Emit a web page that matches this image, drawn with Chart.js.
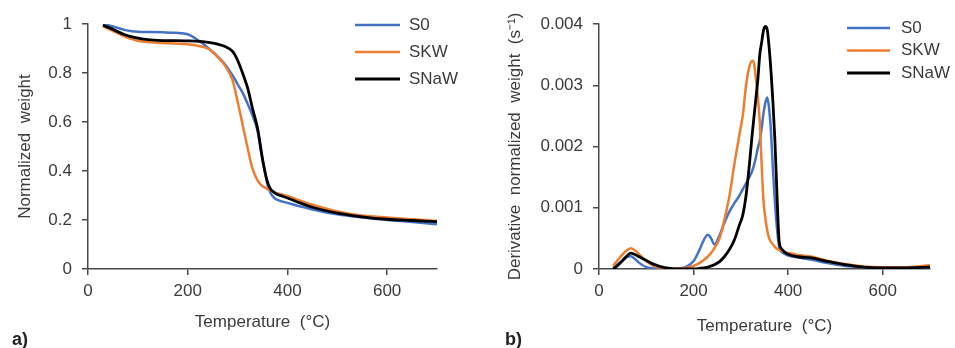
<!DOCTYPE html>
<html>
<head>
<meta charset="utf-8">
<script src="https://cdn.jsdelivr.net/npm/chart.js@4.4.1/dist/chart.umd.min.js"></script>
<style>
  body { margin: 0; background: #fff; }
  #wrap { position: relative; width: 955px; height: 348px; }
  canvas { position: absolute; top: 0; }
</style>
</head>
<body>
<div id="wrap">
  <canvas id="chart_tg" width="480" height="348" style="left:0"></canvas>
  <canvas id="chart_dtg" width="475" height="348" style="left:480px"></canvas>
</div>
<script>
// Series
const seriesNames = ['S0', 'SKW', 'SNaW'];
const seriesColors = ['#4472c4', '#ed7d31', '#000000'];

// a) TG curves
const tgTemps = [30, 50, 75, 100, 125, 150, 175, 200, 215, 230, 245, 260, 275, 290, 300, 310, 320, 330, 340, 350, 355, 360, 365, 370, 375, 380, 390, 400, 425, 450, 500, 550, 600, 650, 700];
const s0Weight = [1.0, 0.99, 0.975, 0.968, 0.967, 0.966, 0.964, 0.958, 0.942, 0.92, 0.895, 0.868, 0.835, 0.79, 0.755, 0.72, 0.675, 0.626, 0.565, 0.445, 0.40, 0.345, 0.315, 0.298, 0.288, 0.282, 0.275, 0.27, 0.256, 0.243, 0.223, 0.21, 0.2, 0.192, 0.183];
const skwWeight = [0.99, 0.972, 0.948, 0.932, 0.925, 0.922, 0.92, 0.917, 0.913, 0.907, 0.895, 0.865, 0.83, 0.77, 0.685, 0.59, 0.495, 0.41, 0.362, 0.338, 0.332, 0.326, 0.321, 0.317, 0.313, 0.309, 0.303, 0.298, 0.28, 0.262, 0.235, 0.218, 0.21, 0.203, 0.196];
const snawWeight = [0.995, 0.978, 0.955, 0.942, 0.935, 0.932, 0.932, 0.931, 0.93, 0.928, 0.924, 0.918, 0.908, 0.888, 0.852, 0.8, 0.74, 0.655, 0.575, 0.45, 0.395, 0.355, 0.33, 0.318, 0.31, 0.304, 0.297, 0.29, 0.27, 0.252, 0.228, 0.213, 0.203, 0.198, 0.193];

// b) DTG curves
const dtgTemps = [30, 40, 50, 60, 67, 75, 85, 100, 115, 130, 150, 170, 185, 200, 213, 222, 230, 237, 244, 255, 265, 276, 286, 297, 304, 311, 318, 324, 328, 332, 336, 340, 344, 348, 352, 356, 360, 364, 368, 372, 376, 381, 386, 392, 400, 420, 450, 480, 520, 560, 600, 650, 700];
const s0Deriv = [0.00002, 0.00008, 0.00014, 0.0002, 0.00021, 0.00017, 0.0001, 0.00003, 0.00001, 0, 0, 0.00001, 0.00004, 0.00013, 0.00032, 0.00048, 0.00056, 0.0005, 0.0004, 0.00055, 0.00075, 0.00094, 0.00107, 0.0012, 0.0013, 0.0014, 0.0015, 0.0016, 0.0017, 0.00183, 0.00198, 0.0021, 0.0023, 0.00255, 0.00272, 0.0028, 0.0026, 0.0022, 0.0016, 0.0011, 0.0007, 0.00036, 0.00028, 0.00025, 0.00022, 0.00019, 0.00015, 0.0001, 0.00005, 0.00003, 0.00002, 0.00002, 0.00003];
const skwDeriv = [0.00005, 0.00015, 0.00024, 0.00031, 0.00034, 0.00031, 0.00024, 0.00013, 0.00005, 0.00002, 0.00001, 0.00001, 0.00002, 0.00005, 0.0001, 0.00015, 0.0002, 0.00026, 0.00034, 0.0005, 0.0008, 0.0012, 0.0017, 0.0022, 0.0025, 0.003, 0.0033, 0.0034, 0.00335, 0.0031, 0.0028, 0.0024, 0.0017, 0.0011, 0.00082, 0.00062, 0.0005, 0.00044, 0.0004, 0.00036, 0.00033, 0.00031, 0.0003, 0.00028, 0.00026, 0.00023, 0.0002, 0.00014, 0.00008, 0.00004, 0.00003, 0.00003, 0.00006];
const snawDeriv = [0, 0.00006, 0.00014, 0.00022, 0.00026, 0.00024, 0.0002, 0.00014, 0.00008, 0.00004, 0.00001, 0, 0, 0, 0.00001, 0.00002, 0.00003, 0.00005, 0.00007, 0.00012, 0.0002, 0.00032, 0.00047, 0.00072, 0.00088, 0.0012, 0.0017, 0.0022, 0.0025, 0.0028, 0.0031, 0.0035, 0.0037, 0.0039, 0.00396, 0.0039, 0.0036, 0.0032, 0.0027, 0.0021, 0.0013, 0.00045, 0.00033, 0.00028, 0.00024, 0.0002, 0.00018, 0.00013, 0.00007, 0.00003, 0.00002, 0.00002, 0.00003];

// Tick labels
const tempTicks = [0, 200, 400, 600];
const tgTicks = [0, 0.2, 0.4, 0.6, 0.8, 1];
const tgTickLabels = ['0', '0.2', '0.4', '0.6', '0.8', '1'];
const dtgTicks = [0, 0.001, 0.002, 0.003, 0.004];
const dtgTickLabels = ['0', '0.001', '0.002', '0.003', '0.004'];

const FAMILY = "'Liberation Sans', Arial, sans-serif";
const TEXT = '#3b3b3b';
const AXIS = '#4a4a4a';
const font = { family: FAMILY, size: 17 };

// legend + panel letter drawn on the canvas
const sideLegend = {
    id: 'sideLegend',
    afterDraw(chart, args, o) {
        const ctx = chart.ctx;
        ctx.save();
        ctx.font = `${o.size}px ${FAMILY}`;
        ctx.textBaseline = 'middle';
        ctx.textAlign = 'left';
        chart.data.datasets.forEach((ds, i) => {
            const y = o.y + i * o.dy;
            ctx.strokeStyle = ds.borderColor;
            ctx.lineWidth = ds.borderWidth;
            ctx.beginPath();
            ctx.moveTo(o.x, y);
            ctx.lineTo(o.x + o.len, y);
            ctx.stroke();
            ctx.fillStyle = TEXT;
            ctx.fillText(ds.label, o.x + o.len + o.gap, y);
        });
        ctx.font = `bold ${o.size + 1}px ${FAMILY}`;
        ctx.fillStyle = '#222';
        ctx.fillText(o.panel, o.panelX, o.panelY);
        ctx.restore();
    }
};

const makeDatasets = (temps, values) => values.map((vals, i) => ({
    label: seriesNames[i],
    data: temps.map((t, k) => ({ x: t, y: vals[k] })),
    borderColor: seriesColors[i],
    borderWidth: i === 2 ? 2.8 : 2.5,
    pointRadius: 0,
    cubicInterpolationMode: 'monotone',
    order: 3 - i
}));

const makeChart = (id, datasets, cfg) => new Chart(document.getElementById(id), {
    type: 'line',
    data: { datasets },
    plugins: [sideLegend],
    options: {
        responsive: false,
        animation: false,
        layout: { padding: { left: 0, top: 24, right: cfg.padRight, bottom: 0 } },
        plugins: {
            legend: { display: false },
            tooltip: { enabled: false },
            sideLegend: cfg.legend
        },
        scales: {
            x: {
                type: 'linear',
                min: 0,
                max: 700,
                afterBuildTicks: s => { s.ticks = tempTicks.map(v => ({ value: v })); },
                afterFit: s => { s.height = 79; },
                ticks: { font, color: TEXT, padding: 6, maxRotation: 0, callback: v => String(v) },
                grid: { drawOnChartArea: false, tickLength: 6, color: AXIS, lineWidth: 1.5 },
                border: { color: AXIS, width: 1.5 },
                title: { display: true, text: 'Temperature  (°C)', font, color: TEXT, padding: { bottom: cfg.xTitlePad } }
            },
            y: {
                min: 0,
                max: cfg.yMax,
                afterBuildTicks: s => { s.ticks = cfg.yTicks.map(v => ({ value: v })); },
                afterFit: s => { s.width = cfg.yWidth; },
                ticks: { font, color: TEXT, padding: 10, callback: (v, i) => cfg.yLabels[i] },
                grid: { drawOnChartArea: false, tickLength: 6, color: AXIS, lineWidth: 1.5 },
                border: { color: AXIS, width: 1.5 },
                title: { display: true, text: cfg.yTitle, font, color: TEXT, padding: { top: cfg.yTitlePad } }
            }
        }
    }
});

makeChart('chart_tg', makeDatasets(tgTemps, [s0Weight, skwWeight, snawWeight]), {
    padRight: 43,
    yMax: 1,
    yTicks: tgTicks,
    yLabels: tgTickLabels,
    yWidth: 88,
    yTitle: 'Normalized  weight',
    yTitlePad: 15,
    xTitlePad: 15,
    legend: { x: 355, y: 25, dy: 27, len: 45, gap: 9, size: 17, panel: 'a)', panelX: 12, panelY: 340 }
});

makeChart('chart_dtg', makeDatasets(dtgTemps, [s0Deriv, skwDeriv, snawDeriv]), {
    padRight: 25,
    yMax: 0.004,
    yTicks: dtgTicks,
    yLabels: dtgTickLabels,
    yWidth: 119,
    yTitle: 'Derivative  normalized  weight  (s⁻¹)',
    yTitlePad: 25,
    xTitlePad: 11,
    legend: { x: 367, y: 28, dy: 22.5, len: 43, gap: 11, size: 17, panel: 'b)', panelX: 25, panelY: 340 }
});
</script>
</body>
</html>
